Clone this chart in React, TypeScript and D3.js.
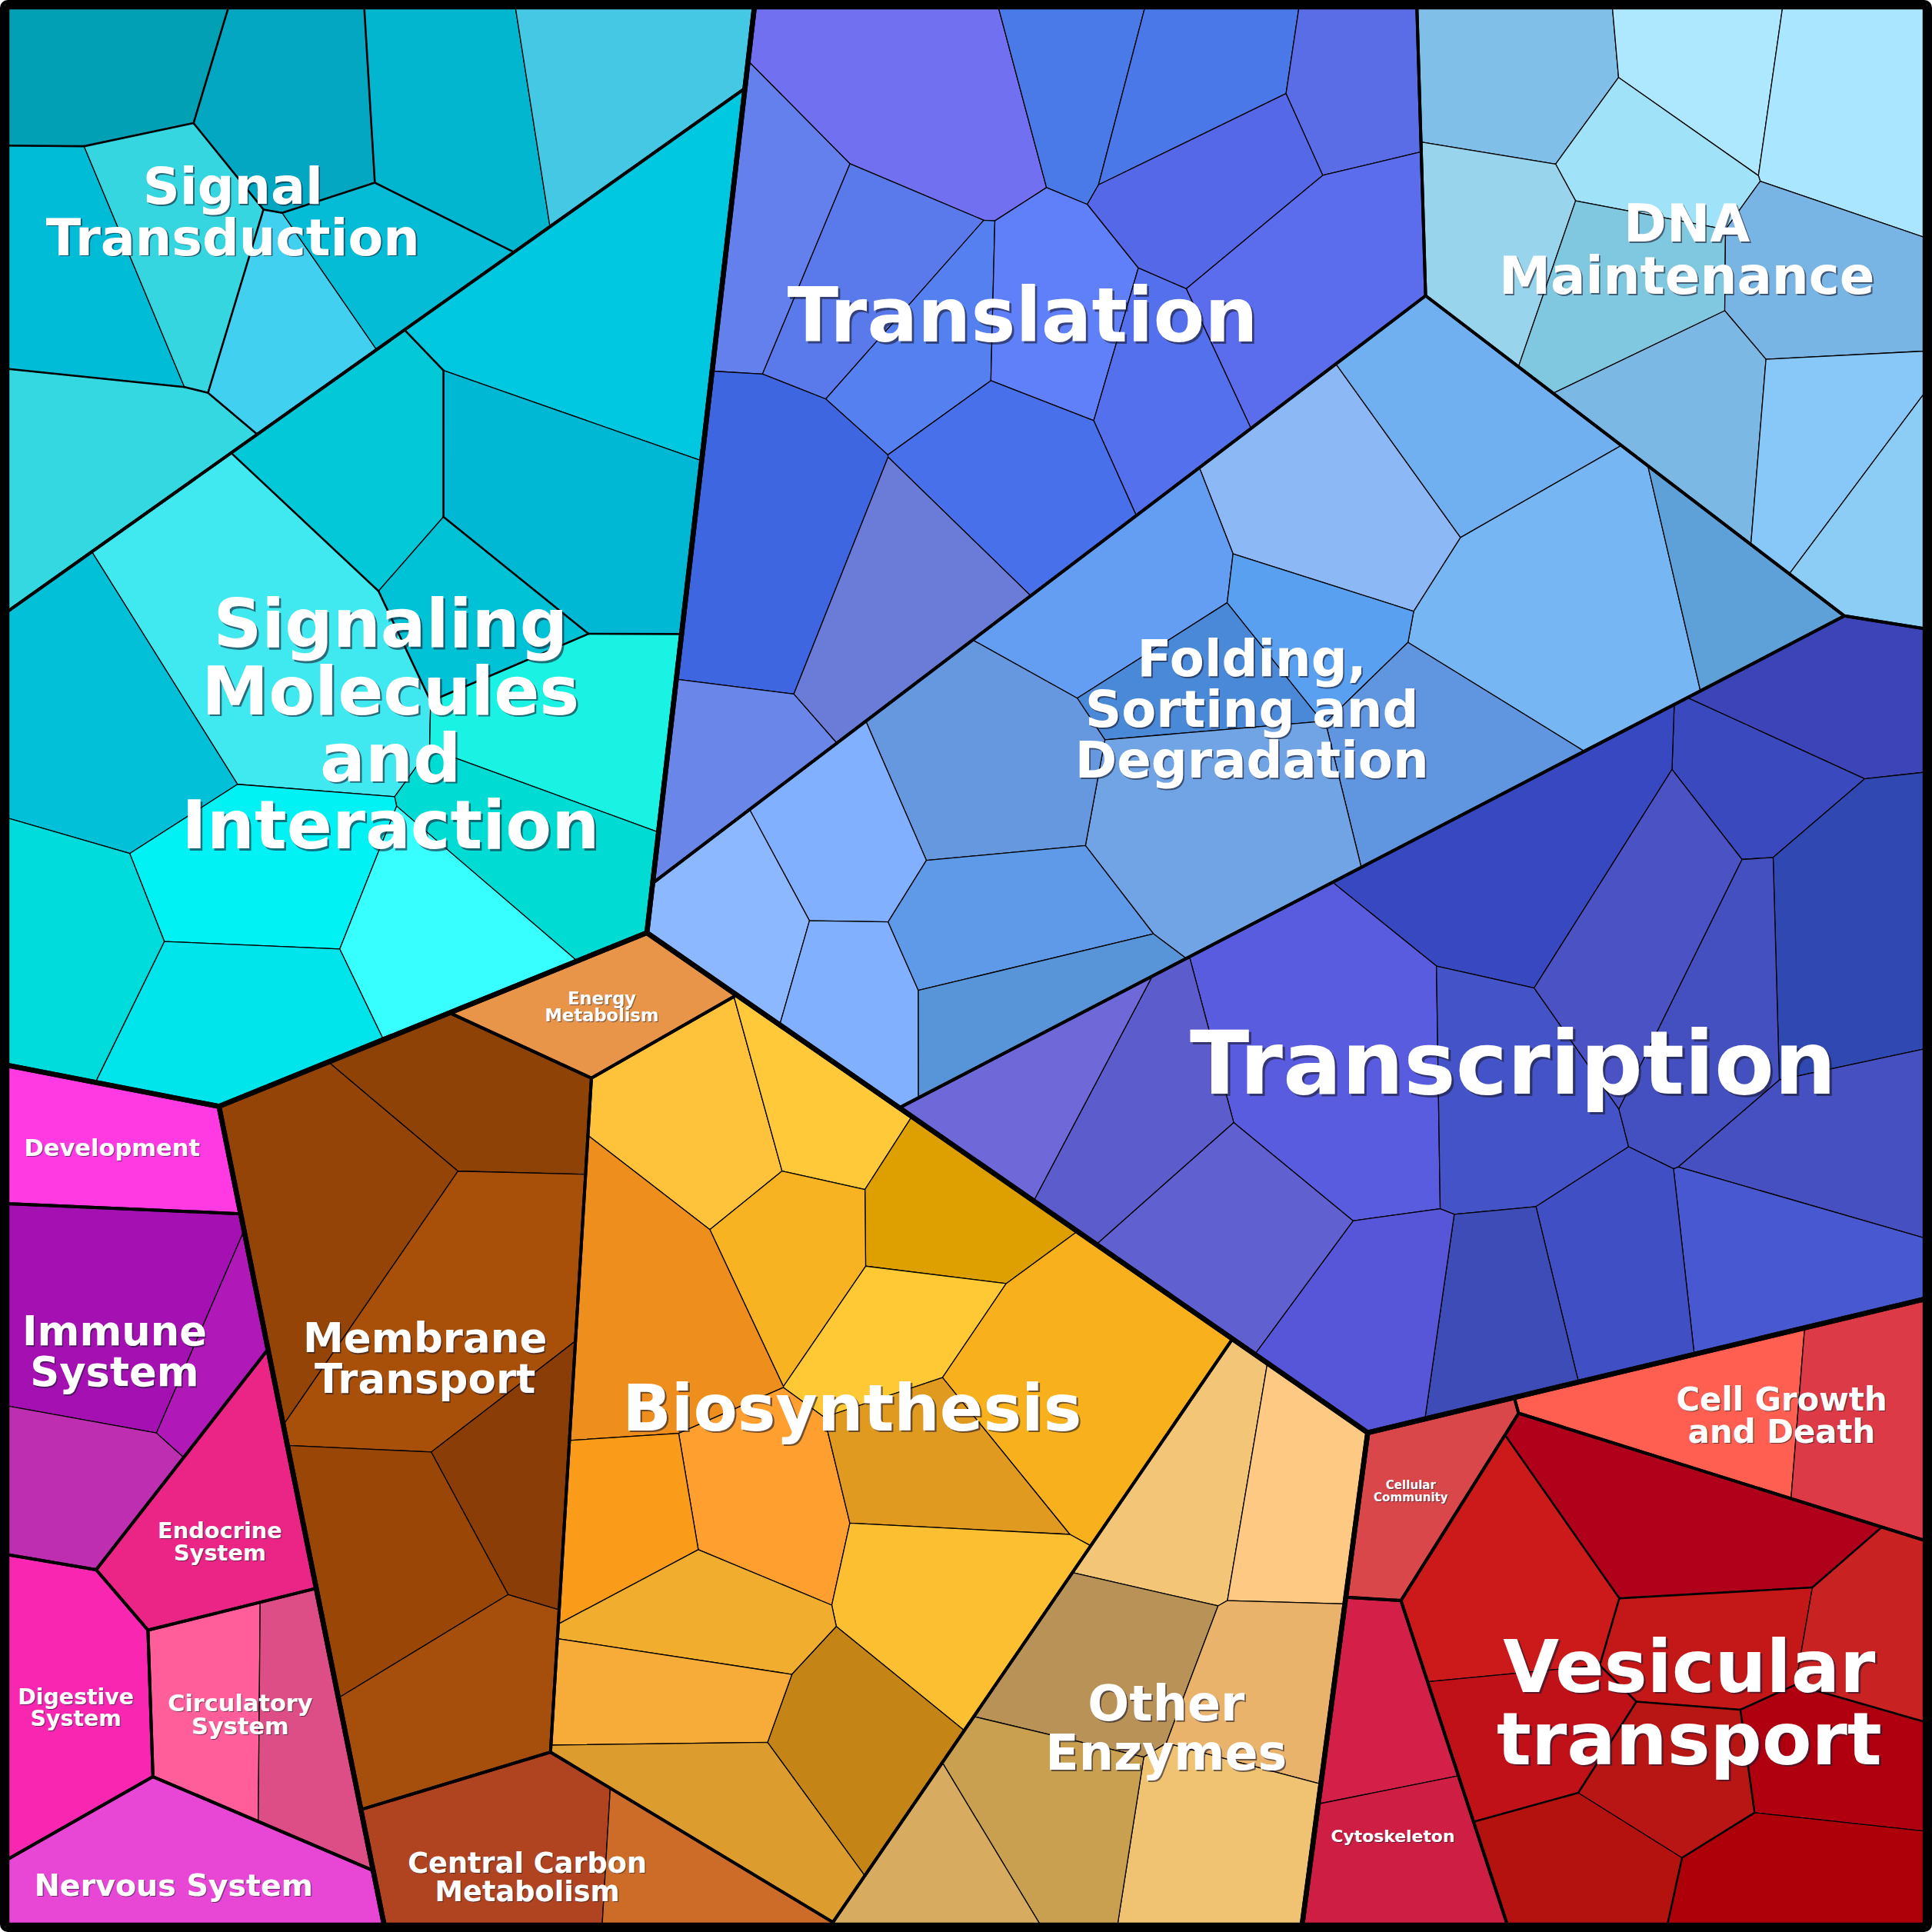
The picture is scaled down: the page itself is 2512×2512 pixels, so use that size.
import React, { useMemo } from 'react';
import * as d3 from 'd3';

const SIZE = 2512;
// Layout units: pixels of a 1568-px rendition of the chart (inner square ~8..1560)
const LAYOUT_EXTENT = 1568;
const OUTER_MIN = 5.62;
const OUTER_MAX = 1562.4;

// ---- Top-level groups (power-diagram seeds and weights, layout units) ----
const groupIds = ['EIP', 'GIP', 'MET', 'ORG', 'CEL'];
const groupSeeds = [[270, 420], [1064.6, 512.3], [587, 1201], [99.3, 1299.4], [1251, 1289.5]];
const groupWeights = [0, 172457, 22386, -69632, -216704];

// ---- Categories ----
const categoryIds = ['ST', 'SM', 'TL', 'DNA', 'FO', 'TR', 'EN', 'MT', 'BS', 'CC', 'OE', 'CCm', 'CG', 'VT', 'CY', 'DV', 'IM', 'ED', 'DG', 'CI', 'NV'];
const categoryGroup = ['EIP', 'EIP', 'GIP', 'GIP', 'GIP', 'GIP', 'MET', 'MET', 'MET', 'MET', 'MET', 'CEL', 'CEL', 'CEL', 'CEL', 'ORG', 'ORG', 'ORG', 'ORG', 'ORG', 'ORG'];
const categoryLabels = [
  ['Signal', 'Transduction'],
  ['Signaling', 'Molecules', 'and', 'Interaction'],
  ['Translation'],
  ['DNA', 'Maintenance'],
  ['Folding,', 'Sorting and', 'Degradation'],
  ['Transcription'],
  ['Energy', 'Metabolism'],
  ['Membrane', 'Transport'],
  ['Biosynthesis'],
  ['Central Carbon', 'Metabolism'],
  ['Other', 'Enzymes'],
  ['Cellular', 'Community'],
  ['Cell Growth', 'and Death'],
  ['Vesicular', 'transport'],
  ['Cytoskeleton'],
  ['Development'],
  ['Immune', 'System'],
  ['Endocrine', 'System'],
  ['Digestive', 'System'],
  ['Circulatory', 'System'],
  ['Nervous System'],
];
const categorySeeds = [
  [220, 180], [432.8, 479.9],
  [850, 250], [1359.7, 234.6], [1098.2, 576.6], [1257, 881.7],
  [490, 820], [329.1, 1169.7], [703.2, 1192.4], [458.8, 1598.1], [958.6, 1367.3],
  [1165, 1220], [1414.4, 1150.6], [1355.2, 1339.5], [1153.7, 1405.6],
  [108.2, 930.2], [100, 1120], [206.5, 1203], [65, 1324.3], [235.2, 1318.5], [160.9, 1492.9],
];
const categoryWeights = [
  0, 36514,
  0, -53242, 22388, 60879,
  0, 106499, 147448, 60109, 128531,
  0, 23213, 42226, 4619,
  -16683, 0, -2659, -21498, -11261, -34887,
];
const labelAnchors = [
  [189, 171], [317, 587], [830, 255], [1369, 202], [1016, 575], [1228, 862],
  [488.5, 817], [345, 1102], [691.5, 1142], [428, 1523], [946.5, 1402],
  [1145, 1210], [1446, 1148.5], [1371, 1381], [1130.4, 1490],
  [91, 931], [93, 1096.5], [178.5, 1251], [61.6, 1385.5], [195, 1391.4], [141, 1529.5],
];
const labelSizes = [66.7, 87.3, 97.4, 67.4, 65.7, 113.4, 22.6, 53, 83.5, 36.7, 63.5, 15.1, 41.8, 94, 21.9, 30.5, 52.7, 28.8, 28.4, 30.4, 39.5];

// ---- Leaves: [cell centre X, cell centre Y, value, colour, subgroup] ----
const leafST = [
  [86, 57, 173, '#02a0b4', 0], [236, 84, 192, '#03a7c2', 1], [370, 95, 225, '#02b6d0', 2], [520, 58, 217, '#45c8e3', 2],
  [62, 222, 188, '#00bcd6', 3], [145, 190, 170, '#36d6e0', 3], [230, 255, 129, '#42d0f0', 4], [315, 205, 125, '#04bcd5', 4],
  [75, 385, 222, '#33d8e0', 5],
];
const leafSM = [
  [498, 234, 377, '#00c8e0', 0], [460, 400, 282, '#00b8d4', 0], [295, 372, 192, '#03c8d8', 1], [390, 460, 120, '#00c2d6', 1],
  [215, 520, 420, '#40e8ef', 2], [460, 570, 200, '#1af3e3', 2], [430, 690, 180, '#00dcd4', 2], [80, 585, 270, '#02c0d8', 2],
  [195, 715, 200, '#00f2f5', 2], [335, 770, 170, '#38ffff', 2], [185, 835, 200, '#00e4ec', 2], [50, 775, 190, '#00dcdc', 2],
];
const leafTL = [
  [735, 85, 283, '#7070f0'], [878, 69, 119, '#4a7ae8'], [975, 65, 138, '#4a78e8'], [1100, 70, 125, '#5a6ce6'],
  [990, 150, 155, '#5468e8'], [1075, 230, 245, '#5b6cec'], [625, 185, 150, '#6480ec'], [700, 225, 157, '#5a7aec'],
  [750, 285, 126, '#5580f0'], [850, 255, 161, '#6080fa'], [945, 320, 144, '#5470ec'], [625, 430, 301, '#3e66e0'],
  [825, 390, 193, '#4870ea'], [730, 485, 204, '#6a7cd8'], [590, 610, 128, '#6a86e8'],
];
const leafDNA = [
  [1215, 55, 170, '#80c0e8'], [1375, 48, 120, '#aee8ff'], [1500, 80, 200, '#aae6ff'], [1320, 125, 110, '#a0e2f8'],
  [1195, 190, 150, '#98d4ec'], [1300, 230, 160, '#80c8e0'], [1470, 225, 180, '#78b4e4'], [1350, 330, 160, '#7cb8e4'],
  [1470, 350, 150, '#88c8f8'], [1520, 420, 110, '#8ccdf5'],
];
const leafFO = [
  [1080, 400, 220, '#8cb8f5'], [1180, 330, 200, '#70b0f0'], [1270, 490, 330, '#76b6f2'], [1405, 467, 110, '#5ea0d8'],
  [920, 455, 170, '#649ef2'], [975, 530, 110, '#4a88d8'], [1060, 470, 100, '#5aa0f0'], [1165, 600, 180, '#6096e0'],
  [990, 650, 280, '#70a4e4'], [810, 610, 220, '#6698e0'], [695, 665, 130, '#80b0ff'], [585, 740, 120, '#8cb8ff'],
  [700, 810, 110, '#80b0ff'], [820, 740, 150, '#5e9ae8'], [840, 805, 110, '#5894d8'],
];
const leafTR = [
  [1490, 555, 130, '#3c44b8'], [1420, 640, 90, '#3a4abe'], [1505, 760, 210, '#3049b2'], [1220, 690, 230, '#3848c0'],
  [1060, 860, 320, '#5a5ce0'], [1180, 880, 180, '#4454c8'], [1330, 760, 170, '#4a52c4'], [1395, 830, 150, '#4450c0'],
  [1510, 935, 150, '#4650c0'], [1480, 1040, 160, '#4858d0'], [1300, 1050, 140, '#4050c4'], [1195, 1085, 120, '#3e4cb8'],
  [1090, 1080, 150, '#5856d8'], [960, 1000, 160, '#6060d0'], [890, 910, 150, '#5c5ccc'], [800, 880, 110, '#6e68d8'],
];
const leafEN = [[490, 820, 1, '#e8954a']];
const leafMT = [
  [380, 895, 150, '#8f4205'], [250, 1010, 250, '#934406'], [360, 1085, 290, '#a84f0a'], [430, 1220, 120, '#8b3d08'],
  [320, 1280, 190, '#9a4606'], [375, 1390, 170, '#a64e0c'],
];
const leafBS = [
  [560, 906, 176, '#fec33a'], [662, 900, 107, '#ffc93a'], [762, 985, 138, '#dea000'], [640, 1015, 130, '#f7b322'],
  [722, 1085, 124, '#ffc935'], [868, 1120, 316, '#f8b01c'], [530, 1065, 264, '#ee8e1c'], [622, 1212, 166, '#ff9f30'],
  [505, 1230, 123, '#fa9c1a'], [755, 1190, 152, '#e09a20'], [770, 1300, 212, '#fdbf32'], [575, 1312, 132, '#f0ad2e'],
  [685, 1410, 167, '#c58416'], [535, 1378, 130, '#f7ac3a'], [585, 1470, 163, '#dc9d2e'],
];
const leafCC = [[390, 1500, 140, '#b04320'], [540, 1520, 65, '#cd6b29']];
const leafOE = [
  [965, 1190, 120, '#f3c576'], [1060, 1205, 110, '#fdc983'], [915, 1320, 130, '#b99257'], [1040, 1360, 110, '#e9b36b'],
  [1010, 1480, 140, '#efc372'], [870, 1460, 130, '#c9a050'], [775, 1510, 80, '#d8ac60'],
];
const leafCCm = [[1165, 1220, 1, '#d9474a']];
const leafCG = [[1350, 1135, 170, '#ff5f50'], [1510, 1150, 170, '#dc3a46']];
const leafVT = [
  [1365, 1225, 232, '#b0001a', 0], [1235, 1280, 211, '#cc1a1a', 1], [1385, 1330, 135, '#c41818', 2], [1515, 1320, 121, '#c82222', 2],
  [1245, 1405, 140, '#c01018', 1], [1280, 1515, 133, '#b4120e', 3], [1360, 1440, 121, '#b81614', 3], [1480, 1430, 139, '#b00010', 4],
  [1460, 1525, 160, '#ae0008', 4],
];
const leafCY = [[1125, 1378, 119, '#d42048'], [1137, 1510, 149, '#ce1e44']];
const leafDV = [[95, 930, 1, '#ff3ae2']];
const leafIM = [[95, 1060, 250, '#a510b3'], [185, 1100, 60, '#b018b8'], [70, 1210, 120, '#be2eb0']];
const leafED = [[170, 1210, 1, '#eb2585']];
const leafDG = [[65, 1385, 1, '#f826b0']];
const leafCI = [[165, 1382, 129, '#ff5e9b'], [243, 1395, 136, '#dc4e85']];
const leafNV = [[150, 1520, 1, '#e847d5']];

const leafTable = {
  ST: leafST, SM: leafSM, TL: leafTL, DNA: leafDNA, FO: leafFO, TR: leafTR, EN: leafEN, MT: leafMT, BS: leafBS,
  CC: leafCC, OE: leafOE, CCm: leafCCm, CG: leafCG, VT: leafVT, CY: leafCY, DV: leafDV, IM: leafIM, ED: leafED,
  DG: leafDG, CI: leafCI, NV: leafNV,
};

// ---------- geometry ----------
type V = { x: number; y: number; t: number };
type Site = { x: number; y: number; w: number };

function clipHalf(poly: V[], ax: number, ay: number, b: number, tag: number): V[] {
  const out: V[] = [];
  const n = poly.length;
  for (let k = 0; k < n; k++) {
    const c = poly[k];
    const nx = poly[(k + 1) % n];
    const dc = ax * c.x + ay * c.y - b;
    const dn = ax * nx.x + ay * nx.y - b;
    if (dc <= 0) {
      out.push(c);
      if (dn > 0) {
        const s = dc / (dc - dn);
        out.push({ x: c.x + s * (nx.x - c.x), y: c.y + s * (nx.y - c.y), t: tag });
      }
    } else if (dn <= 0) {
      const s = dc / (dc - dn);
      out.push({ x: c.x + s * (nx.x - c.x), y: c.y + s * (nx.y - c.y), t: c.t });
    }
  }
  return out;
}

function powerCells(sites: Site[], clip: V[]): V[][] {
  return sites.map((p, i) => {
    let poly: V[] = clip.map((v) => ({ x: v.x, y: v.y, t: -1 }));
    for (let j = 0; j < sites.length; j++) {
      if (j === i) continue;
      const q = sites[j];
      const ax = 2 * (q.x - p.x);
      const ay = 2 * (q.y - p.y);
      const b = q.x * q.x + q.y * q.y - (p.x * p.x + p.y * p.y) - q.w + p.w;
      poly = clipHalf(poly, ax, ay, b, j);
      if (poly.length < 3) return [];
    }
    return poly;
  });
}

const toPts = (c: V[]) => c.map((v) => [v.x, v.y] as [number, number]);

// Voronoi-treemap layout: weights give each cell the area of its value; a bounded
// second phase nudges sites so that cell centres approach the given centres.
function layoutLeaves(leaves: any[], clip: V[]): V[][] {
  const A = Math.abs(d3.polygonArea(toPts(clip)));
  const tot = d3.sum(leaves, (l) => l[2]);
  const target = leaves.map((l) => (l[2] / tot) * A);
  const sites: Site[] = leaves.map((l) => ({ x: l[0], y: l[1], w: 0 }));
  // phase 1: sites fixed, solve weights
  for (let it = 0; it < 220; it++) {
    const cells = powerCells(sites, clip);
    const gain = it < 110 ? 0.35 : 0.25;
    cells.forEach((c, i) => {
      const a = c.length < 3 ? 0 : Math.abs(d3.polygonArea(toPts(c)));
      sites[i].w += gain * (target[i] - a);
    });
  }
  // phase 2: bounded centre matching
  const LIM = 38;
  for (let it = 0; it < 160; it++) {
    const cells = powerCells(sites, clip);
    cells.forEach((c, i) => {
      const s = sites[i];
      if (c.length < 3) {
        s.w += target[i] * 0.1;
        return;
      }
      const a = Math.abs(d3.polygonArea(toPts(c)));
      const cen = d3.polygonCentroid(toPts(c));
      let nx = s.x + 0.3 * (leaves[i][0] - cen[0]);
      let ny = s.y + 0.3 * (leaves[i][1] - cen[1]);
      const dx = nx - leaves[i][0];
      const dy = ny - leaves[i][1];
      const dd = Math.hypot(dx, dy);
      if (dd > LIM) {
        nx = leaves[i][0] + (dx / dd) * LIM;
        ny = leaves[i][1] + (dy / dd) * LIM;
      }
      s.x = nx;
      s.y = ny;
      s.w += 0.3 * (target[i] - a);
    });
  }
  // final weight polish with sites frozen
  for (let it = 0; it < 60; it++) {
    const cells = powerCells(sites, clip);
    cells.forEach((c, i) => {
      const a = c.length < 3 ? 0 : Math.abs(d3.polygonArea(toPts(c)));
      sites[i].w += 0.25 * (target[i] - a);
    });
  }
  return powerCells(sites, clip);
}

function buildModel() {
  const outer: V[] = [
    { x: OUTER_MIN, y: OUTER_MIN, t: -1 },
    { x: OUTER_MAX, y: OUTER_MIN, t: -1 },
    { x: OUTER_MAX, y: OUTER_MAX, t: -1 },
    { x: OUTER_MIN, y: OUTER_MAX, t: -1 },
  ];
  const gSites = groupIds.map((_, i) => ({ x: groupSeeds[i][0], y: groupSeeds[i][1], w: groupWeights[i] }));
  const gCells = powerCells(gSites, outer);
  const catCells: V[][] = new Array(categoryIds.length);
  groupIds.forEach((g, gi) => {
    const idxs = categoryIds.map((_, ci) => ci).filter((ci) => categoryGroup[ci] === g);
    const sites = idxs.map((ci) => ({ x: categorySeeds[ci][0], y: categorySeeds[ci][1], w: categoryWeights[ci] }));
    const cells = powerCells(sites, gCells[gi]);
    idxs.forEach((ci, k) => (catCells[ci] = cells[k]));
  });
  const leafCells: { poly: V[]; color: string }[] = [];
  const subEdges: [V, V][] = [];
  categoryIds.forEach((id, ci) => {
    const leaves = (leafTable as any)[id];
    const clip = catCells[ci];
    if (!clip || clip.length < 3) return;
    if (leaves.length === 1) {
      leafCells.push({ poly: clip, color: leaves[0][3] });
    } else {
      const cells = layoutLeaves(leaves, clip);
      cells.forEach((c, k) => {
        if (c.length < 3) return;
        leafCells.push({ poly: c, color: leaves[k][3] });
        const subK = leaves[k][4] ?? 0;
        c.forEach((v, m) => {
          const t = v.t;
          if (t > k) {
            const subT = leaves[t][4] ?? 0;
            if (subT !== subK) subEdges.push([v, c[(m + 1) % c.length]]);
          }
        });
      });
    }
  });
  return { gCells, catCells, leafCells, subEdges };
}

const sx = d3.scaleLinear().domain([0, LAYOUT_EXTENT]).range([0, SIZE]);
const sy = d3.scaleLinear().domain([0, LAYOUT_EXTENT]).range([0, SIZE]);

function pts(poly: V[]) {
  return poly.map((v) => `${sx(v.x).toFixed(2)},${sy(v.y).toFixed(2)}`).join(' ');
}

function Label({ lines, anchor, fs }: { lines: string[]; anchor: number[]; fs: number }) {
  const X = sx(anchor[0]);
  const Y = sy(anchor[1]);
  const n = lines.length;
  const lh = fs;
  const base = Y + (0.729 * fs) / 2 - ((n - 1) * lh) / 2;
  const off = Math.max(1, fs * 0.028);
  const common = {
    fontFamily: "'DejaVu Sans', 'Verdana', sans-serif",
    fontWeight: 700,
    fontSize: fs,
    textAnchor: 'middle' as const,
  };
  return (
    <g>
      <text {...common} fill="#1a1a2e" fillOpacity={0.6}>
        {lines.map((ln, k) => (
          <tspan key={k} x={X + off} y={base + k * lh + off}>
            {ln}
          </tspan>
        ))}
      </text>
      <text {...common} fill="#ffffff">
        {lines.map((ln, k) => (
          <tspan key={k} x={X} y={base + k * lh}>
            {ln}
          </tspan>
        ))}
      </text>
    </g>
  );
}

export default function App() {
  const model = useMemo(() => buildModel(), []);
  return (
    <svg
      width={SIZE}
      height={SIZE}
      viewBox={`0 0 ${SIZE} ${SIZE}`}
      style={{ position: 'absolute', left: 0, top: 0, display: 'block' }}
    >
      <defs>
        <clipPath id="innerSquare">
          <rect x={sx(OUTER_MIN)} y={sy(OUTER_MIN)} width={sx(OUTER_MAX) - sx(OUTER_MIN)} height={sy(OUTER_MAX) - sy(OUTER_MIN)} />
        </clipPath>
      </defs>
      <rect x={0} y={0} width={SIZE} height={SIZE} rx={10} fill="#000" />
      <g clipPath="url(#innerSquare)">
        {model.leafCells.map((c, i) => (
          <polygon key={'l' + i} points={pts(c.poly)} fill={c.color} stroke="#000" strokeWidth={1.3} strokeLinejoin="round" />
        ))}
        {model.subEdges.map(([a, b], i) => (
          <line key={'s' + i} x1={sx(a.x)} y1={sy(a.y)} x2={sx(b.x)} y2={sy(b.y)} stroke="#000" strokeWidth={2.6} strokeLinecap="round" />
        ))}
        {model.catCells.map((c, i) =>
          c && c.length >= 3 ? (
            <polygon key={'c' + i} points={pts(c)} fill="none" stroke="#000" strokeWidth={4} strokeLinejoin="round" />
          ) : null
        )}
        {model.gCells.map((c, i) =>
          c && c.length >= 3 ? (
            <polygon key={'g' + i} points={pts(c)} fill="none" stroke="#000" strokeWidth={6.5} strokeLinejoin="round" />
          ) : null
        )}
      </g>
      {categoryIds.map((id, ci) => (
        <Label key={id} lines={categoryLabels[ci]} anchor={labelAnchors[ci]} fs={labelSizes[ci]} />
      ))}
    </svg>
  );
}
